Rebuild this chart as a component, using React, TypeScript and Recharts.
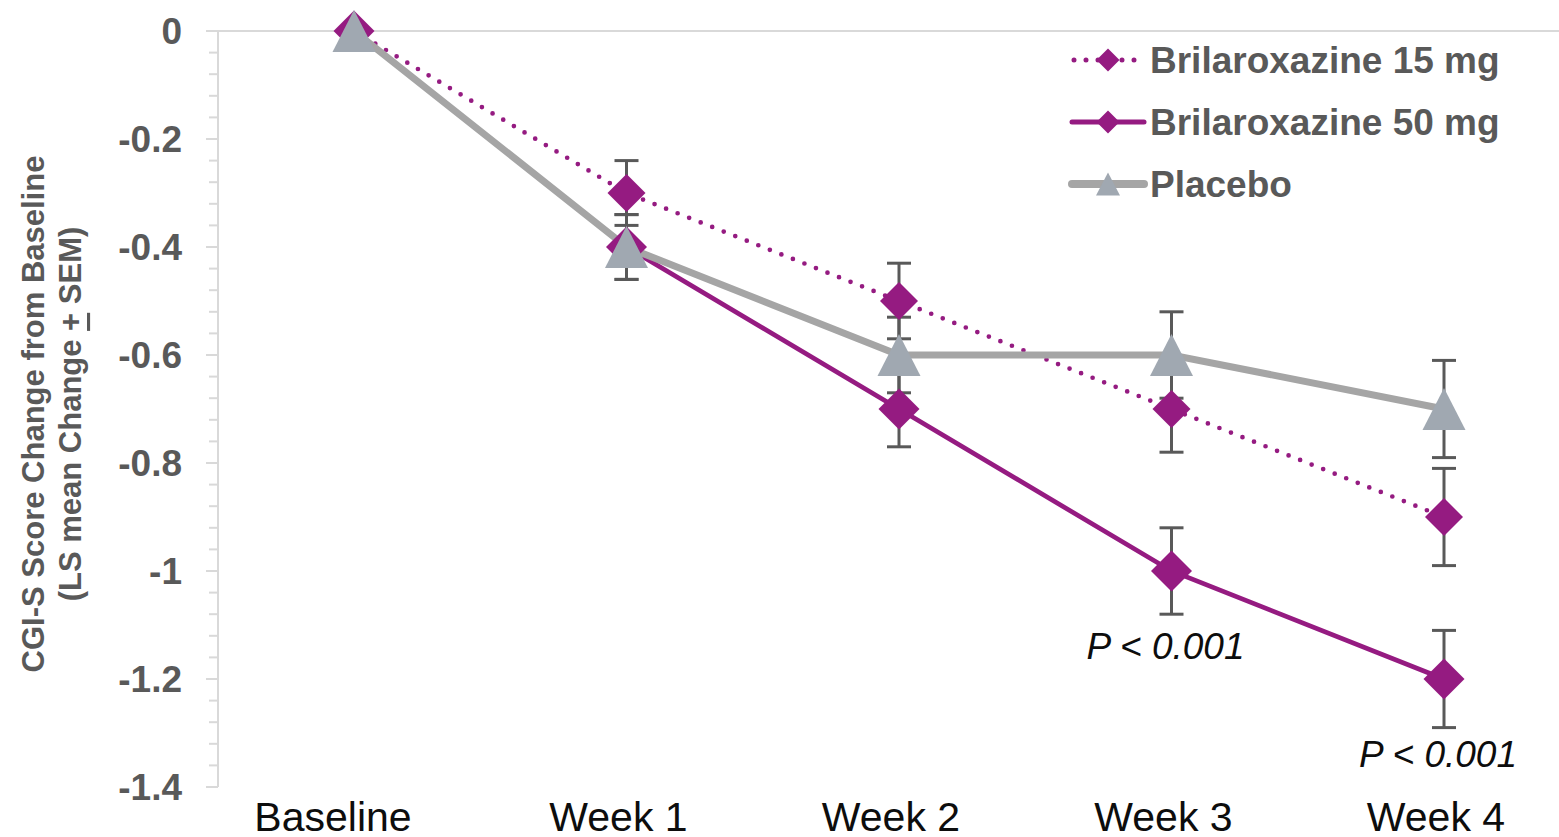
import React from "react";
import { LineChart, Line, XAxis, YAxis, ErrorBar, Legend, LabelList } from "recharts";

const CATEGORIES = ["Baseline", "Week 1", "Week 2", "Week 3", "Week 4"];
const BRIL_15 = [0, -0.3, -0.5, -0.7, -0.9];
const BRIL_15_SEM = [0, 0.06, 0.07, 0.08, 0.09];
const BRIL_50 = [0, -0.4, -0.7, -1.0, -1.2];
const BRIL_50_SEM = [0, 0.06, 0.07, 0.08, 0.09];
const PLACEBO = [0, -0.4, -0.6, -0.6, -0.7];
const PLACEBO_SEM = [0, 0.06, 0.07, 0.08, 0.09];
const P_VALUES_50 = ["", "", "", "P < 0.001", "P < 0.001"];

const Y_MAJOR_TICKS = [0, -0.2, -0.4, -0.6, -0.8, -1, -1.2, -1.4];
// 4 minor ticks between each pair of labelled ticks
const Y_ALL_TICKS = Y_MAJOR_TICKS.flatMap((t, i) =>
  i === Y_MAJOR_TICKS.length - 1 ? [t] : [0, 1, 2, 3, 4].map((k) => t - k * 0.04)
);
// tick marks along the zero line, at every half category
const TOP_TICKS = [0, 1, 2, 3, 4, 5, 6, 7, 8, 9, 10];

const FONT = '"Liberation Sans", Arial, Helvetica, sans-serif';
const PURPLE = "#951B81";
const GREY_LINE = "#A5A5A5";
const GREY_MARK = "#A0A8B1";
const AXIS = "#D9D9D9";
const TEXT = "#595959";

const data = CATEGORIES.map((c, i) => ({
  cat: c,
  b15: BRIL_15[i],
  b15e: BRIL_15_SEM[i],
  b50: BRIL_50[i],
  b50e: BRIL_50_SEM[i],
  pbo: PLACEBO[i],
  pboe: PLACEBO_SEM[i],
  p50: P_VALUES_50[i],
}));

const isMajor = (v: number) => Math.abs(v * 5 - Math.round(v * 5)) < 1e-6;

// eslint-disable-next-line @typescript-eslint/no-explicit-any
function YTick({ x, y, payload }: any) {
  const v = payload.value as number;
  const major = isMajor(v);
  return (
    <g>
      <line x1={x - (major ? 12 : 9)} x2={x} y1={y} y2={y} stroke={AXIS} strokeWidth={2} />
      {major && (
        <text
          x={x - 36}
          y={y}
          textAnchor="end"
          dominantBaseline="central"
          fontSize={37}
          fontWeight={700}
          fill={TEXT}
          fontFamily={FONT}
        >
          {String(Number(v.toFixed(2)))}
        </text>
      )}
    </g>
  );
}

// eslint-disable-next-line @typescript-eslint/no-explicit-any
function CategoryTick({ x, y, payload }: any) {
  // Excel nudged the first label a bit further left
  const dx = payload.index === 0 ? -21 : -8;
  return (
    <text x={x} y={y + 44} dx={dx} textAnchor="middle" fontSize={41} fill="#0D0D0D" fontFamily={FONT}>
      {payload.value}
    </text>
  );
}

// eslint-disable-next-line @typescript-eslint/no-explicit-any
function PLabel({ x, y, value }: any) {
  if (!value) return null;
  return (
    <text x={x - 6} y={y + 88} textAnchor="middle" fontSize={37} fontStyle="italic" fill="#0D0D0D" fontFamily={FONT}>
      {value}
    </text>
  );
}

function diamondPath(cx: number, cy: number, size: number) {
  const h = size / 2;
  return `M${cx},${cy - h}L${cx + h},${cy}L${cx},${cy + h}L${cx - h},${cy}Z`;
}

function trianglePath(cx: number, cy: number, w: number, h: number) {
  return `M${cx},${cy - h / 2}L${cx + w / 2},${cy + h / 2}L${cx - w / 2},${cy + h / 2}Z`;
}

const diamondDot = (prefix: string, size: number) =>
  // eslint-disable-next-line @typescript-eslint/no-explicit-any
  (props: any) => {
    const { cx, cy, index } = props;
    if (cx == null || cy == null) return <g key={`${prefix}-${index}`} />;
    return <path key={`${prefix}-${index}`} d={diamondPath(cx, cy, size)} fill={PURPLE} />;
  };

// eslint-disable-next-line @typescript-eslint/no-explicit-any
const triangleDot = (props: any) => {
  const { cx, cy, index } = props;
  if (cx == null || cy == null) return <g key={`tri-${index}`} />;
  return <path key={`tri-${index}`} d={trianglePath(cx, cy, 43, 42)} fill={GREY_MARK} />;
};

function YTitle() {
  return (
    <g fontFamily={FONT} fontWeight={700} fontSize={31} fill={TEXT}>
      <text transform="translate(33,414) rotate(-90)" textAnchor="middle" dominantBaseline="central">
        CGI-S Score Change from Baseline
      </text>
      <text transform="translate(70,414) rotate(-90)" textAnchor="middle" dominantBaseline="central">
        (LS mean Change <tspan textDecoration="underline">+</tspan> SEM)
      </text>
    </g>
  );
}

const LEGEND_ROWS = [
  { name: "Brilaroxazine 15 mg", kind: "dotted" },
  { name: "Brilaroxazine 50 mg", kind: "solid" },
  { name: "Placebo", kind: "placebo" },
];

function LegendSample({ kind }: { kind: string }) {
  return (
    <svg width={80} height={40} style={{ display: "block", flex: "none" }}>
      {kind === "dotted" && (
        <>
          <line x1={6} x2={76} y1={20} y2={20} stroke={PURPLE} strokeWidth={5} strokeDasharray="0 12" strokeLinecap="round" />
          <path d={diamondPath(40, 20, 23)} fill={PURPLE} />
        </>
      )}
      {kind === "solid" && (
        <>
          <line x1={4} x2={76} y1={20} y2={20} stroke={PURPLE} strokeWidth={5} strokeLinecap="round" />
          <path d={diamondPath(40, 20, 23)} fill={PURPLE} />
        </>
      )}
      {kind === "placebo" && (
        <>
          <line x1={4} x2={76} y1={20} y2={20} stroke={GREY_LINE} strokeWidth={8} strokeLinecap="round" />
          <path d={trianglePath(40, 20, 24, 23)} fill={GREY_MARK} />
        </>
      )}
    </svg>
  );
}

function LegendContent() {
  return (
    <div style={{ fontFamily: FONT, fontWeight: 700, fontSize: 37, color: TEXT }}>
      {LEGEND_ROWS.map((r) => (
        <div key={r.name} style={{ display: "flex", alignItems: "center", height: 62 }}>
          <LegendSample kind={r.kind} />
          <span style={{ marginLeft: 2, lineHeight: 1, whiteSpace: "nowrap" }}>{r.name}</span>
        </div>
      ))}
    </div>
  );
}

export default function App() {
  return (
    <div
      style={{
        position: "absolute",
        left: 0,
        top: 0,
        width: 1559,
        height: 837,
        overflow: "hidden",
        background: "#fff",
      }}
    >
      <LineChart
        width={1600}
        height={837}
        data={data}
        margin={{ top: 31, right: 20, bottom: 0, left: 0 }}
        style={{ fontFamily: FONT }}
      >
        <XAxis
          dataKey="cat"
          padding={{ left: 136, right: 136 }}
          height={50}
          axisLine={false}
          tickLine={false}
          tickSize={0}
          tickMargin={0}
          interval={0}
          tick={<CategoryTick />}
        />
        <XAxis
          xAxisId="zero"
          type="number"
          orientation="top"
          mirror
          allowDataOverflow
          domain={[0, 10]}
          ticks={TOP_TICKS}
          interval={0}
          tick={false}
          tickSize={7}
          axisLine={{ stroke: AXIS, strokeWidth: 2 }}
          tickLine={{ stroke: AXIS, strokeWidth: 2 }}
        />
        <YAxis
          width={218}
          domain={[-1.4, 0]}
          ticks={Y_ALL_TICKS}
          interval={0}
          tickSize={0}
          tickMargin={0}
          tickLine={false}
          axisLine={{ stroke: AXIS, strokeWidth: 2 }}
          tick={<YTick />}
          label={{ content: () => <YTitle /> }}
        />
        <Legend
          layout="vertical"
          align="center"
          verticalAlign="middle"
          content={<LegendContent />}
          wrapperStyle={{ left: 1068, top: 29, width: 490, height: 186 }}
        />
        <Line
          dataKey="b15"
          stroke={PURPLE}
          strokeWidth={4.7}
          strokeDasharray="0 12.4"
          strokeLinecap="round"
          dot={diamondDot("d15", 38)}
          activeDot={false}
          isAnimationActive={false}
        >
          <ErrorBar dataKey="b15e" direction="y" width={12} strokeWidth={3} stroke={TEXT} />
        </Line>
        <Line
          dataKey="b50"
          stroke={PURPLE}
          strokeWidth={4.7}
          dot={diamondDot("d50", 41)}
          activeDot={false}
          isAnimationActive={false}
        >
          <ErrorBar dataKey="b50e" direction="y" width={12} strokeWidth={3} stroke={TEXT} />
          <LabelList dataKey="p50" content={<PLabel />} />
        </Line>
        <Line
          dataKey="pbo"
          stroke={GREY_LINE}
          strokeWidth={7}
          dot={triangleDot}
          activeDot={false}
          isAnimationActive={false}
        >
          <ErrorBar dataKey="pboe" direction="y" width={12} strokeWidth={3} stroke={TEXT} />
        </Line>
      </LineChart>
    </div>
  );
}
